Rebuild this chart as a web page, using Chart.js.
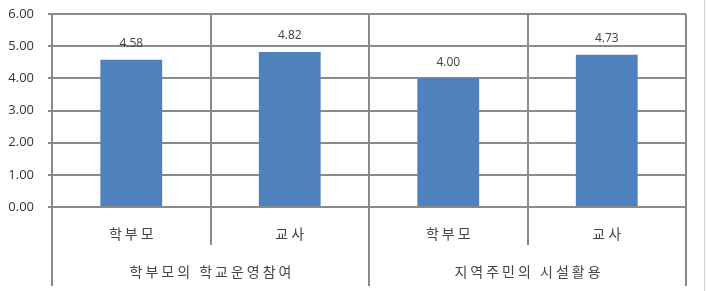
<!DOCTYPE html>
<html>
<head>
<meta charset="utf-8">
<script src="https://cdn.jsdelivr.net/npm/chart.js@4"></script>
<style>
    body { margin: 0; background: #fff; }
</style>
</head>
<body>
<canvas id="chart" width="706" height="291"></canvas>
<script>
// data
const groups = ["학부모의 학교운영참여", "지역주민의 시설활용"];
const subLabels = ["학부모", "교사", "학부모", "교사"];
const values = [4.58, 4.82, 4.00, 4.73];
const yTicks = [0, 1, 2, 3, 4, 5, 6];

const gridColor = "#8a8a8a";
const koFont = "14px 'Noto Sans CJK KR', sans-serif";

// draws value above each bar + the two-level category axis
const groupAxis = {
    id: "groupAxis",
    afterDatasetsDraw(chart) {
        const c = chart.ctx;
        const meta = chart.getDatasetMeta(0);
        c.save();
        c.fillStyle = "#404040";
        c.font = "12px 'Open Sans', sans-serif";
        c.textAlign = "center";
        c.textBaseline = "middle";
        meta.data.forEach(function (bar, i) {
            c.fillText(values[i].toFixed(2), bar.x, bar.y - 16);
        });
        c.restore();
    },
    afterDraw(chart) {
        const c = chart.ctx;
        const area = chart.chartArea;
        const step = (area.right - area.left) / subLabels.length;
        const perGroup = subLabels.length / groups.length;
        c.save();
        c.strokeStyle = gridColor;
        c.lineWidth = 2;
        for (let k = 0; k <= subLabels.length; k++) {
            const x = Math.round(area.left + k * step);
            const end = (k % perGroup === 0) ? 286 : area.bottom + 38;
            c.beginPath();
            c.moveTo(x, area.bottom);
            c.lineTo(x, end);
            c.stroke();
        }
        // outer frame edge
        c.strokeStyle = "#d4d4d4";
        c.lineWidth = 1;
        c.beginPath();
        c.moveTo(704.5, 0);
        c.lineTo(704.5, 291);
        c.stroke();

        c.fillStyle = "#444";
        c.font = koFont;
        c.letterSpacing = "3px";
        c.textAlign = "center";
        c.textBaseline = "middle";
        subLabels.forEach(function (s, i) {
            c.fillText(s, area.left + (i + 0.5) * step + 1.5, area.bottom + 27);
        });
        groups.forEach(function (g, i) {
            c.fillText(g, area.left + (i + 0.5) * perGroup * step + 1.5, area.bottom + 65);
        });
        c.restore();
    }
};

const ctx = document.getElementById("chart");

const chart = new Chart(ctx, {
    type: "bar",
    data: {
        labels: subLabels,
        datasets: [{
            data: values,
            backgroundColor: "#4f81bd",
            borderWidth: 0,
            barPercentage: 0.39,
            categoryPercentage: 1
        }]
    },
    options: {
        responsive: false,
        animation: false,
        layout: {
            padding: { left: 0, top: 14, right: 20, bottom: 84 }
        },
        plugins: {
            legend: { display: false },
            tooltip: { enabled: false }
        },
        scales: {
            x: {
                offset: true,
                grid: {
                    color: gridColor,
                    lineWidth: 2,
                    offset: true,
                    drawTicks: false
                },
                border: { color: gridColor, width: 2 },
                ticks: { display: false },
                afterFit: function (scale) {
                    scale.height = 0;
                    scale.paddingLeft = 0;
                    scale.paddingRight = 0;
                }
            },
            y: {
                min: 0,
                max: 6,
                afterBuildTicks: function (scale) {
                    scale.ticks = yTicks.map(v => ({ value: v }));
                },
                grid: {
                    color: gridColor,
                    lineWidth: 2,
                    tickLength: 4
                },
                border: { color: gridColor, width: 2 },
                ticks: {
                    color: "#333",
                    padding: 14,
                    font: { family: "'Open Sans', sans-serif", size: 13 },
                    callback: v => Number(v).toFixed(2)
                },
                afterFit: function (scale) {
                    scale.width = 52;
                    scale.paddingTop = 0;
                    scale.paddingBottom = 0;
                }
            }
        }
    },
    plugins: [groupAxis]
});
</script>
</body>
</html>
